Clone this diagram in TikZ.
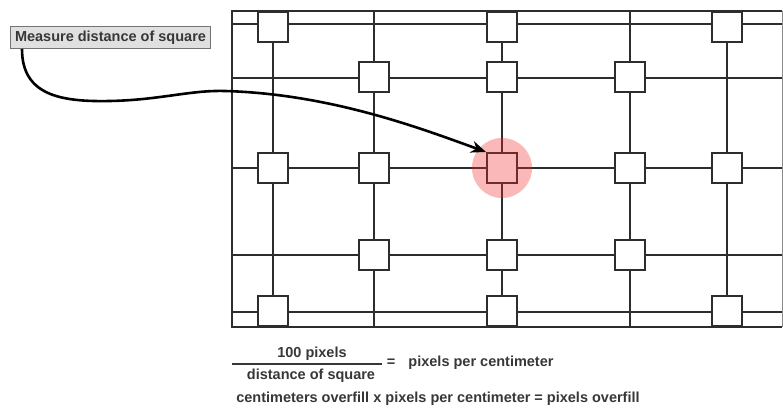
\documentclass[tikz,border=0pt]{standalone}
\usepackage{fontspec}
\setmainfont{Liberation Sans}
\usetikzlibrary{arrows.meta}
\definecolor{ink}{RGB}{45,45,45}
\definecolor{txt}{RGB}{55,55,55}
\definecolor{hl}{RGB}{240,40,40}
\tikzset{
  gridline/.style={draw=ink, line width=2pt},
  sq/.style={draw=ink, fill=white, line width=2pt, minimum size=30pt, inner sep=0pt},
  lbl/.style={font=\fontsize{14.5}{16}\selectfont\bfseries, text=txt, inner sep=0pt},
  callout/.style={lbl, draw=black!55, fill=black!12, line width=1pt, minimum width=200pt, minimum height=22pt},
  pointer/.style={draw=black, line width=2.6pt, -{Stealth[length=15pt,width=12pt]}},
}
\begin{document}
\begin{tikzpicture}[x=1pt,y=-1pt]
\useasboundingbox (0,0) rectangle (783,409);
% grid lines
\foreach \y in {24,78,168,255,312} \draw[gridline] (232,\y) -- (782,\y);
\foreach \x in {273,374,502,630,727} \draw[gridline] (\x,11) -- (\x,327);
\draw[gridline] (782,11) -- (232,11) -- (232,327) -- (782,327);
\draw[draw=black!45, line width=1pt] (782,11) -- (782,327);
% squares
\node[sq] (s11) at (273,27) {};
\node[sq] (s13) at (502,27) {};
\node[sq] (s15) at (727,27) {};
\node[sq] (s22) at (374,77) {};
\node[sq] (s23) at (502,77) {};
\node[sq] (s24) at (630,77) {};
\node[sq] (s31) at (273,168) {};
\node[sq] (s32) at (374,168) {};
\node[sq] (target) at (502,168) {};
\node[sq] (s34) at (630,168) {};
\node[sq] (s35) at (727,168) {};
\node[sq] (s42) at (374,255) {};
\node[sq] (s43) at (502,255) {};
\node[sq] (s44) at (630,255) {};
\node[sq] (s51) at (273,311) {};
\node[sq] (s53) at (502,311) {};
\node[sq] (s55) at (727,311) {};
% highlight
\fill[hl, opacity=0.33] (target.center) circle (30);
% callout
\node[callout] (note) at (110.5,37.5) {Measure distance of square};
\coordinate (start) at (22,49);
\draw[pointer] (start) .. controls (22,95) and (60,102) .. (110,101)
  .. controls (160,100) and (190,90) .. (225,91)
  .. controls (330,94) and (420,128) .. (target.north west);
% formula
\node[lbl] (num) at (312,354) {100 pixels};
\node[lbl] (den) at (311,376) {distance of square};
\draw[draw=txt, line width=1.2pt] (232,364) -- (382,364);
\node[lbl] (eq) at (391,363) {=};
\node[lbl] (ppc) at (481,363) {pixels per centimeter};
\node[lbl] (calc) at (438,399) {centimeters overfill x pixels per centimeter = pixels overfill};
\end{tikzpicture}
\end{document}
